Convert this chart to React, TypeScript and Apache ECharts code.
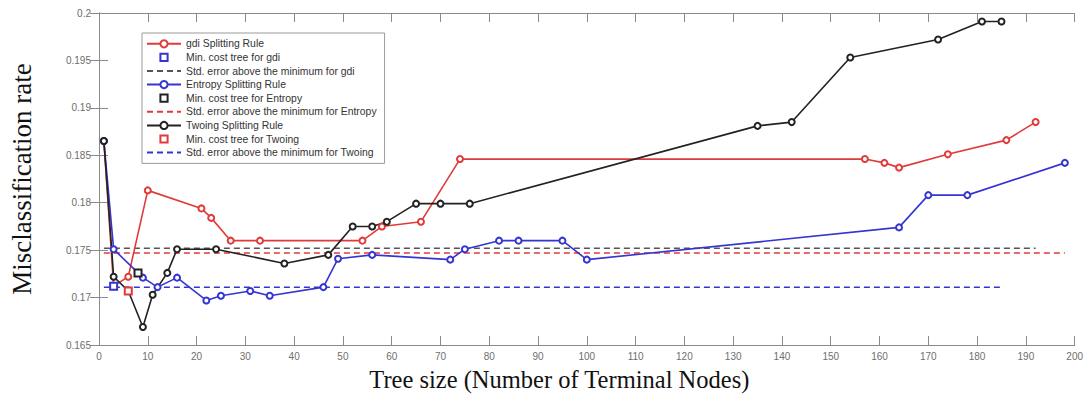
import React, { useEffect, useRef } from "react";
import * as echarts from "echarts";

// ---- data ----
const gdiX = [1, 3, 6, 10, 21, 23, 27, 33, 54, 58, 66, 74, 157, 161, 164, 174, 186, 192];
const gdiY = [0.1865, 0.1712, 0.1722, 0.1813, 0.1794, 0.1784, 0.176, 0.176, 0.176, 0.1775, 0.178, 0.1846, 0.1846, 0.1842, 0.1837, 0.1851, 0.1866, 0.1885];

const entropyX = [1, 3, 8, 9, 12, 16, 22, 25, 31, 35, 46, 49, 56, 72, 75, 82, 86, 95, 100, 164, 170, 178, 198];
const entropyY = [0.1865, 0.1751, 0.1726, 0.1721, 0.1711, 0.1721, 0.1697, 0.1702, 0.1707, 0.1702, 0.1711, 0.1741, 0.1745, 0.174, 0.1751, 0.176, 0.176, 0.176, 0.174, 0.1774, 0.1808, 0.1808, 0.1842];

const twoingX = [1, 3, 6, 9, 11, 14, 16, 24, 38, 47, 52, 56, 59, 65, 70, 76, 135, 142, 154, 172, 181, 185];
const twoingY = [0.1865, 0.1722, 0.1707, 0.1669, 0.1703, 0.1726, 0.1751, 0.1751, 0.1736, 0.1745, 0.1775, 0.1775, 0.178, 0.1799, 0.1799, 0.1799, 0.1881, 0.1885, 0.1953, 0.1972, 0.1991, 0.1991];

// minimum cost trees [x, y]
const minCostGdi = [[3, 0.1712]];
const minCostEntropy = [[8, 0.1726]];
const minCostTwoing = [[6, 0.1707]];

// std. error levels: [xStart, xEnd, y]
const seGdi = [1, 192, 0.1752];
const seEntropy = [1, 198, 0.1747];
const seTwoing = [1, 185, 0.1711];

const seriesNames = [
  "gdi Splitting Rule",
  "Min. cost tree for gdi",
  "Std. error above the minimum for gdi",
  "Entropy Splitting Rule",
  "Min. cost tree for Entropy",
  "Std. error above the minimum for Entropy",
  "Twoing Splitting Rule",
  "Min. cost tree for Twoing",
  "Std. error above the minimum for Twoing",
];
const dashedNames = [seriesNames[2], seriesNames[5], seriesNames[8]];

const xMin = 0, xMax = 200, xStep = 10;
const yMin = 0.165, yMax = 0.2, yStep = 0.005;

const RED = "#e23a3a";
const BLUE = "#3535d2";
const BLACK = "#222222";
const GRAY = "#555555";

const zip = (xs: number[], ys: number[]) => xs.map((x, i) => [x, ys[i]]);
const seLine = (s: number[]) => [[s[0], s[2]], [s[1], s[2]]];

export default function App() {
  const ref = useRef<HTMLDivElement>(null);
  useEffect(() => {
    if (!ref.current) return;
    const chart = echarts.init(ref.current, null, { renderer: "svg" });
    const axisColor = "#8a8a8a";
    const labelStyle = { color: "#6e6e6e", fontSize: 10, fontFamily: "Arial, 'Liberation Sans', sans-serif" };
    const mainLine = (name: string, data: number[][], color: string) => ({
      name,
      type: "line",
      data,
      symbol: "emptyCircle",
      symbolSize: 6,
      color,
      lineStyle: { color, width: 1.6 },
      itemStyle: { color, borderColor: color, borderWidth: 1.2 },
      z: 3,
    });
    const dashLine = (name: string, data: number[][], color: string) => ({
      name,
      type: "line",
      data,
      symbol: "none",
      color,
      lineStyle: { color, width: 1.5, type: [6, 4] },
      z: 2,
    });
    const square = (name: string, data: number[][], color: string) => ({
      name,
      type: "line",
      data,
      symbol: "emptyRect",
      symbolSize: 7,
      color,
      lineStyle: { color, opacity: 0 },
      itemStyle: { color, borderColor: color, borderWidth: 1.2 },
      z: 4,
    });
    chart.setOption({
      animation: false,
      backgroundColor: "#ffffff",
      grid: { left: 97, right: 10, top: 13, bottom: 49, containLabel: false },
      legend: {
        orient: "vertical",
        left: 142,
        top: 33,
        padding: [4, 8, 4, 4],
        itemWidth: 34,
        itemHeight: 9,
        itemGap: 0,
        backgroundColor: "#ffffff",
        borderColor: "#9a9a9a",
        borderWidth: 1,
        textStyle: { fontSize: 10.4, color: "#333", fontFamily: "Arial, 'Liberation Sans', sans-serif", lineHeight: 13.6 },
        data: seriesNames.map((n) =>
          dashedNames.includes(n)
            ? { name: n, itemStyle: { color: "transparent", borderColor: "transparent", opacity: 0 } }
            : { name: n }
        ),
      },
      xAxis: [
        {
          type: "value",
          min: xMin,
          max: xMax,
          interval: xStep,
          position: "bottom",
          name: "Tree size (Number of Terminal Nodes)",
          nameLocation: "middle",
          nameGap: 22,
          nameTextStyle: {
            fontSize: 24.5,
            color: "#111",
            fontFamily: "'Times New Roman', 'Liberation Serif', serif",
            padding: [0, 55, 0, 0],
          },
          axisLine: { show: true, lineStyle: { color: axisColor, width: 1 } },
          axisTick: { show: true, inside: true, length: 9, lineStyle: { color: axisColor } },
          axisLabel: { ...labelStyle, margin: 6 },
          splitLine: { show: false },
        },
        {
          type: "value",
          min: xMin,
          max: xMax,
          interval: xStep,
          position: "top",
          axisLine: { show: true, lineStyle: { color: axisColor, width: 1 } },
          axisTick: { show: true, inside: true, length: 9, lineStyle: { color: axisColor } },
          axisLabel: { show: false },
          splitLine: { show: false },
        },
      ],
      yAxis: [
        {
          type: "value",
          min: yMin,
          max: yMax,
          interval: yStep,
          position: "left",
          name: "Misclassification rate",
          nameLocation: "middle",
          nameGap: 64,
          nameRotate: 90,
          nameTextStyle: {
            fontSize: 27,
            color: "#111",
            fontFamily: "'Times New Roman', 'Liberation Serif', serif",
          },
          axisLine: { show: true, lineStyle: { color: axisColor, width: 1 } },
          axisTick: { show: true, inside: true, length: 9, lineStyle: { color: axisColor } },
          axisLabel: {
            ...labelStyle,
            margin: 8,
            formatter: (v: number) => String(parseFloat(v.toFixed(3))),
          },
          splitLine: { show: false },
        },
        {
          type: "value",
          min: yMin,
          max: yMax,
          interval: yStep,
          position: "right",
          axisLine: { show: true, lineStyle: { color: axisColor, width: 1 } },
          axisTick: { show: true, inside: true, length: 9, lineStyle: { color: axisColor } },
          axisLabel: { show: false },
          splitLine: { show: false },
        },
      ],
      series: [
        mainLine(seriesNames[0], zip(gdiX, gdiY), RED),
        square(seriesNames[1], minCostGdi, BLUE),
        dashLine(seriesNames[2], seLine(seGdi), GRAY),
        mainLine(seriesNames[3], zip(entropyX, entropyY), BLUE),
        square(seriesNames[4], minCostEntropy, BLACK),
        dashLine(seriesNames[5], seLine(seEntropy), RED),
        mainLine(seriesNames[6], zip(twoingX, twoingY), BLACK),
        square(seriesNames[7], minCostTwoing, RED),
        dashLine(seriesNames[8], seLine(seTwoing), BLUE),
      ],
    });
    return () => chart.dispose();
  }, []);
  return (
    <div
      ref={ref}
      style={{ position: "fixed", left: 0, top: 0, width: 1086, height: 397, background: "#fff" }}
    />
  );
}
